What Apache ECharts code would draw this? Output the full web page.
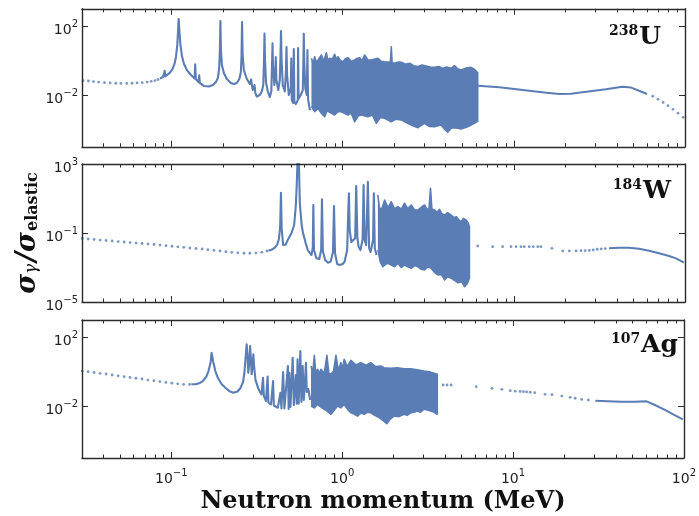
<!DOCTYPE html>
<html><head><meta charset="utf-8">
<script src="https://cdn.jsdelivr.net/npm/echarts@6/dist/echarts.min.js"></script>
<style>html,body{margin:0;padding:0;background:#fff}#c{width:699px;height:516px}</style>
</head><body><div id="c"></div>
<script>
// ---------- tick values ----------
const xMajor = [0.1, 1, 10, 100];
const xMinor = [0.04,0.05,0.06,0.07,0.08,0.09,0.2,0.3,0.4,0.5,0.6,0.7,0.8,0.9,2,3,4,5,6,7,8,9,20,30,40,50,60,70,80,90];
const yTicksU = [1e-2, 1e2];
const yTicksW = [1e-5, 1e-1, 1e3];
const yTicksAg = [1e-2, 1e2];
const panelNames = [['238','U'], ['184','W'], ['107','Ag']];

// ---------- 238U ----------
const U_dots = [[0.0304,0.068],[0.0327,0.065],[0.0350,0.060],[0.0375,0.056],[0.0406,0.052],[0.0438,0.050],[0.0473,0.048],[0.0506,0.047],[0.0548,0.047],[0.0588,0.048],[0.0629,0.050],[0.0674,0.052],[0.0721,0.056],[0.0761,0.062],[0.0800,0.069],[0.0834,0.079]];
const U_line = [[0.0857,0.091],[0.0892,0.11],[0.0908,0.12],[0.0913,0.25],[0.0919,0.12],[0.0941,0.145],[0.098,0.20],[0.1013,0.32],[0.1041,0.63],[0.1062,1.6],[0.1081,8],[0.1091,45],[0.1101,257],[0.1113,45],[0.1128,8],[0.1151,1.8],[0.1183,0.63],[0.1231,0.28],[0.1299,0.145],[0.1365,0.09],[0.1376,0.6],[0.1387,0.085],[0.1441,0.055],[0.1452,0.14],[0.1464,0.05],[0.1547,0.033],[0.1655,0.031],[0.1746,0.038],[0.1817,0.056],[0.1867,0.098],[0.190,0.37],[0.1918,4],[0.1931,195],[0.1944,4],[0.197,0.55],[0.2023,0.19],[0.2106,0.085],[0.2223,0.05],[0.2314,0.044],[0.241,0.05],[0.2491,0.085],[0.2542,0.21],[0.2566,2.1],[0.2583,170],[0.2604,2.1],[0.2646,0.28],[0.2755,0.085],[0.2869,0.044],[0.292,0.08],[0.2959,0.03],[0.2987,0.0195],[0.3056,0.038],[0.309,0.013],[0.315,0.0081],[0.3281,0.01],[0.337,0.016],[0.3438,0.038],[0.3471,1.07],[0.3494,37],[0.3518,1.07],[0.3566,0.056],[0.3653,0.016],[0.3753,0.0076],[0.3829,0.016],[0.3866,0.55],[0.3892,9.8],[0.3918,0.55],[0.3987,0.038],[0.4041,0.21],[0.4068,1.6],[0.4101,0.074],[0.4207,0.0195],[0.4293,0.074],[0.4333,2.1],[0.4362,51],[0.4397,1.07],[0.4469,0.038],[0.4591,0.016],[0.4666,0.28],[0.4697,6],[0.4735,0.145],[0.4844,0.01],[0.4976,0.025],[0.5010,1.3],[0.5044,0.005],[0.5146,0.0034],[0.5181,4.6],[0.5223,0.004],[0.5322,0.003],[0.5467,0.005],[0.549,5.2],[0.5527,0.006],[0.5692,0.01],[0.5848,0.0195],[0.5895,1.07],[0.5926,35],[0.5966,0.8],[0.6046,0.025],[0.6169,0.01],[0.6227,4.1],[0.6277,0.006],[0.6421,0.0015],[0.6508,0.00135]];
const U_bandHi = [[0.657,1.34],[0.672,0.7],[0.687,1.66],[0.70,0.8],[0.718,1.07],[0.735,0.9],[0.751,2.08],[0.775,0.9],[0.803,2.83],[0.82,1.0],[0.840,1.34],[0.87,1.2],[0.898,2.29],[0.92,1.1],[0.939,1.66],[0.97,1.0],[1.004,0.85],[1.04,1.3],[1.074,1.45],[1.12,0.9],[1.175,1.07],[1.21,1.3],[1.256,1.45],[1.30,1.0],[1.344,2.08],[1.40,1.1],[1.470,1.07],[1.54,1.2],[1.606,1.34],[1.68,0.9],[1.758,0.85],[1.90,0.8],[1.923,6.3],[1.945,0.75],[2.010,0.69],[2.10,0.8],[2.199,0.79],[2.33,0.6],[2.459,0.69],[2.60,0.5],[2.749,0.44],[2.9,0.55],[3.076,0.48],[3.25,0.42],[3.440,0.40],[3.65,0.45],[3.845,0.35],[4.05,0.42],[4.303,0.35],[4.498,0.50],[4.70,0.33],[4.921,0.28],[5.25,0.36],[5.628,0.40],[5.9,0.30],[6.15,0.2]];
const U_bandLo = [[0.657,0.0021],[0.687,0.00108],[0.718,0.0017],[0.751,0.00087],[0.785,0.00055],[0.810,0.0012],[0.840,0.00099],[0.898,0.00069],[0.94,0.0011],[0.983,0.00108],[1.074,0.00069],[1.12,0.0009],[1.175,0.00028],[1.23,0.0006],[1.285,0.00069],[1.404,0.00055],[1.49,0.0007],[1.572,0.00023],[1.66,0.0005],[1.758,0.00045],[1.923,0.00028],[2.05,0.0004],[2.199,0.00036],[2.35,0.00025],[2.516,0.00018],[2.749,0.000127],[3.006,0.00023],[3.2,0.00015],[3.440,0.000145],[3.763,0.00018],[3.95,0.0001],[4.11,0.0000689],[4.30,0.00012],[4.498,0.000127],[4.921,0.000107],[5.38,0.000145],[5.88,0.00023],[6.15,0.0003]];
const U_tail = [[6.15,0.0346],[8.23,0.0279],[12.3,0.0177],[15.5,0.0135],[18.4,0.0114],[21.5,0.0118],[25.2,0.0144],[34.5,0.0214],[43.1,0.0303],[48.5,0.027],[53.9,0.0177],[60.0,0.0115]];
const U_tailDots = [[64.8,0.0085],[69.5,0.0057],[74.5,0.0037],[79.5,0.0024],[85,0.00148],[91,0.00088],[97.5,0.00051]];

// ---------- 184W ----------
const W_dots = [[0.0301,0.048],[0.0326,0.045],[0.0353,0.042],[0.0383,0.039],[0.0415,0.0367],[0.045,0.0344],[0.0488,0.032],[0.0529,0.030],[0.0573,0.028],[0.0621,0.026],[0.0673,0.0246],[0.0729,0.023],[0.0791,0.0215],[0.0857,0.020],[0.0929,0.0184],[0.1007,0.0170],[0.109,0.0159],[0.118,0.0148],[0.128,0.0135],[0.139,0.0126],[0.151,0.0118],[0.163,0.0108],[0.177,0.0099],[0.192,0.0091],[0.208,0.0082],[0.225,0.0076],[0.244,0.0071],[0.265,0.0067],[0.287,0.0067],[0.311,0.0069],[0.337,0.0076],[0.361,0.0091]];
const W_line = [[0.368,0.0094],[0.386,0.011],[0.403,0.0148],[0.416,0.023],[0.424,0.045],[0.431,0.195],[0.436,21.7],[0.440,0.195],[0.449,0.020],[0.465,0.0215],[0.478,0.04],[0.502,0.096],[0.521,0.3],[0.532,3.35],[0.539,61],[0.544,1000],[0.549,3000],[0.555,1000],[0.562,5.3],[0.576,0.29],[0.587,0.096],[0.608,0.026],[0.625,0.0103],[0.657,0.0053],[0.669,0.0135],[0.674,4.2],[0.680,0.0103],[0.702,0.0034],[0.730,0.0031],[0.749,0.0103],[0.757,9.0],[0.766,0.009],[0.79,0.0027],[0.821,0.0019],[0.851,0.0022],[0.878,0.008],[0.89,3.7],[0.902,0.007],[0.929,0.0016],[0.961,0.0014],[1.0,0.0016],[1.027,0.0022],[1.062,0.0103],[1.077,1.1],[1.088,20],[1.099,0.15],[1.124,0.030],[1.148,0.025],[1.183,0.05],[1.20,53],[1.219,0.05],[1.239,0.0161],[1.27,0.0103],[1.307,0.04],[1.325,61],[1.344,0.039],[1.371,0.02],[1.404,94],[1.427,0.0135],[1.456,0.0079],[1.505,0.04],[1.521,20],[1.54,0.013],[1.578,0.0053]];
const W_bandHi = [[1.606,16],[1.64,3],[1.681,2.15],[1.72,4],[1.758,8.2],[1.84,3],[1.923,6.5],[2.01,2.5],[2.101,3.35],[2.2,2.4],[2.298,5.3],[2.40,2.6],[2.516,4.2],[2.63,2.2],[2.749,2.15],[2.87,3],[3.006,4.2],[3.13,2.2],[3.20,3],[3.26,39],[3.32,2.5],[3.44,2.15],[3.56,1.6],[3.68,2.37],[3.80,1.3],[3.94,1.10],[4.10,1.5],[4.30,1.10],[4.45,0.8],[4.62,0.88],[4.76,0.6],[4.92,0.45],[5.08,0.7],[5.26,0.57],[5.40,0.4],[5.50,0.23]];
const W_bandLo = [[1.606,0.0103],[1.66,0.002],[1.716,0.00111],[1.82,0.0018],[1.923,0.0014],[2.01,0.0011],[2.101,0.00175],[2.2,0.001],[2.298,0.0014],[2.40,0.0011],[2.516,0.0009],[2.63,0.0013],[2.749,0.00111],[2.87,0.0008],[3.006,0.00072],[3.15,0.0011],[3.289,0.0009],[3.45,0.0005],[3.60,0.00037],[3.77,0.0004],[3.94,0.00019],[4.10,0.0003],[4.30,0.00024],[4.50,0.00018],[4.72,0.000131],[4.95,0.00015],[5.15,0.000077],[5.35,0.00012],[5.50,0.00024]];
const W_tailDots = [[6.15,0.0176],[7.52,0.0161],[8.60,0.0161],[9.63,0.0161],[10.3,0.0161],[11.0,0.0161],[11.5,0.0161],[12.3,0.0161],[13.0,0.0161],[13.8,0.0161],[14.4,0.0161],[16.7,0.013],[19.3,0.0091],[21.1,0.0091],[23.1,0.0091],[24.7,0.0094],[26.1,0.0094],[27.6,0.0098],[29.1,0.0105],[30.7,0.0114],[32.4,0.012],[34.2,0.0125]];
const W_tail = [[36.0,0.013],[41.2,0.0141],[47.1,0.0141],[53.9,0.0123],[61.7,0.0094],[70.5,0.0067],[80.7,0.0046],[88.7,0.0034],[98.6,0.0019]];

// ---------- 107Ag ----------
const Ag_dots = [[0.0301,1.10],[0.0326,1.0],[0.0353,0.906],[0.0383,0.81],[0.0415,0.74],[0.045,0.65],[0.0488,0.58],[0.0529,0.52],[0.0573,0.47],[0.0621,0.42],[0.0673,0.38],[0.0729,0.33],[0.0791,0.30],[0.0857,0.27],[0.0929,0.24],[0.1007,0.217],[0.109,0.20],[0.118,0.187],[0.128,0.185]];
const Ag_line = [[0.131,0.187],[0.139,0.19],[0.147,0.223],[0.153,0.29],[0.160,0.50],[0.165,1.1],[0.170,3.7],[0.172,12.7],[0.176,3.7],[0.181,1.1],[0.187,0.45],[0.197,0.19],[0.208,0.115],[0.219,0.075],[0.231,0.061],[0.244,0.072],[0.254,0.115],[0.263,0.255],[0.268,0.97],[0.272,6.3],[0.276,39],[0.280,5],[0.282,0.88],[0.286,3.7],[0.289,31],[0.293,3.7],[0.295,0.71],[0.299,2.15],[0.302,10.3],[0.305,2.15],[0.311,0.33],[0.324,0.096],[0.337,0.048],[0.344,0.45],[0.348,0.039],[0.358,0.020],[0.366,0.52],[0.370,0.0165],[0.383,0.013],[0.394,0.29],[0.398,0.011],[0.420,0.0082],[0.435,0.061],[0.441,0.0074],[0.451,0.97],[0.459,0.0074],[0.481,2.15],[0.486,0.0069],[0.491,0.88],[0.498,0.009],[0.513,6.5],[0.521,0.0118],[0.535,0.65],[0.542,0.014],[0.548,5.3],[0.556,0.014],[0.569,16],[0.577,0.0178],[0.587,2.15],[0.596,0.023],[0.614,3.35],[0.620,0.067],[0.633,0.10],[0.650,0.023]];
const Ag_bandHi = [[0.657,2.15],[0.672,0.8],[0.687,9.0],[0.70,0.9],[0.718,1.39],[0.735,0.8],[0.751,1.39],[0.785,0.8],[0.814,9.0],[0.835,0.8],[0.859,0.71],[0.89,1.1],[0.919,9.0],[0.95,1.2],[0.983,3.35],[1.005,1.4],[1.027,5.3],[1.07,2.0],[1.124,4.6],[1.20,2.5],[1.285,3.35],[1.38,2.4],[1.470,3.35],[1.57,2.0],[1.681,2.15],[1.758,1.72],[1.92,1.6],[2.101,1.72],[2.30,1.5],[2.516,1.50],[2.75,1.3],[3.006,1.10],[3.3,0.95],[3.60,0.71]];
const Ag_bandLo = [[0.657,0.0103],[0.687,0.008],[0.718,0.013],[0.75,0.009],[0.785,0.0067],[0.82,0.005],[0.859,0.0034],[0.90,0.006],[0.939,0.0103],[0.983,0.008],[1.027,0.013],[1.07,0.007],[1.124,0.0042],[1.175,0.0035],[1.228,0.0027],[1.285,0.004],[1.344,0.0034],[1.40,0.0045],[1.470,0.0042],[1.55,0.003],[1.643,0.0022],[1.73,0.0015],[1.823,0.00097],[1.91,0.0018],[2.010,0.0027],[2.15,0.0025],[2.298,0.0034],[2.40,0.003],[2.516,0.0042],[2.63,0.0045],[2.749,0.0053],[2.88,0.0045],[3.006,0.0067],[3.15,0.006],[3.289,0.0053],[3.45,0.0045],[3.60,0.0034]];
const Ag_tailDots = [[3.90,0.17],[4.11,0.17],[4.34,0.17],[6.09,0.136],[7.52,0.11],[8.60,0.096],[9.63,0.080],[10.3,0.075],[11.0,0.072],[11.5,0.070],[12.0,0.068],[12.6,0.065],[13.4,0.061],[15.4,0.049],[16.9,0.047],[19.3,0.039],[21.6,0.033],[23.1,0.029],[25.2,0.025],[27.6,0.023]];
const Ag_tail = [[30.3,0.021],[36.0,0.0194],[43.1,0.0184],[51.7,0.0184],[60.5,0.0192],[67.6,0.0118],[77.4,0.0061],[88.2,0.0031],[98.6,0.00175]];

// ---------- chart ----------
const C = '#5b7db5';
const AX = '#2b2b2b';
const gridTops = [8.75, 164, 320];
const GH = 138;

function supFmt(v) {
  const e = Math.round(Math.log10(v));
  return '{b|10}{s|' + (e < 0 ? '\u2212' + (-e) : e) + '}';
}
const supRich = {
  b: {fontSize: 14, fontFamily: 'DejaVu Sans', color: '#222', padding: [8,0,0,0]},
  s: {fontSize: 10, fontFamily: 'DejaVu Sans', color: '#222', padding: [0,0,4,0]}
};

const grids = [], xAxes = [], yAxes = [], series = [];
const panels = [
  {yt: yTicksU, dots: U_dots, line: U_line, hi: U_bandHi, lo: U_bandLo, tail: U_tail, tdots: U_tailDots},
  {yt: yTicksW, dots: W_dots, line: W_line, hi: W_bandHi, lo: W_bandLo, tail: W_tail, tdots: W_tailDots},
  {yt: yTicksAg, dots: Ag_dots, line: Ag_line, hi: Ag_bandHi, lo: Ag_bandLo, tail: Ag_tail, tdots: Ag_tailDots}
];

panels.forEach((p, gi) => {
  grids.push({left: 82, right: 14, top: gridTops[gi], height: GH});
  const xBase = {gridIndex: gi, type: 'log', logBase: 10, min: 0.03, max: 100, splitLine: {show: false}, minorTick: {show: false}, z: 5};
  const mk = (pos, minor, labels) => Object.assign({}, xBase, {
    position: pos,
    axisLine: {show: !minor, onZero: false, lineStyle: {color: AX, width: 1.4}},
    axisTick: {show: true, inside: true, length: minor ? 3.5 : 6, lineStyle: {color: AX, width: 1}, customValues: minor ? xMinor : xMajor},
    axisLabel: labels ? {show: true, customValues: xMajor, formatter: supFmt, rich: supRich, margin: 6} : {show: false}
  });
  xAxes.push(mk('bottom', false, gi === 2));
  xAxes.push(mk('bottom', true, false));
  xAxes.push(mk('top', false, false));
  xAxes.push(mk('top', true, false));
  const yBase = {gridIndex: gi, type: 'log', logBase: 10, min: 1e-5, max: 1e3, splitLine: {show: false}, minorTick: {show: false}, z: 5};
  yAxes.push(Object.assign({}, yBase, {
    position: 'left',
    axisLine: {show: true, onZero: false, lineStyle: {color: AX, width: 1.4}},
    axisTick: {show: true, inside: true, length: 6, lineStyle: {color: AX, width: 1}, customValues: p.yt},
    axisLabel: {show: true, customValues: p.yt, formatter: supFmt, rich: supRich, margin: 4}
  }));
  yAxes.push(Object.assign({}, yBase, {
    position: 'right',
    axisLine: {show: true, onZero: false, lineStyle: {color: AX, width: 1.4}},
    axisTick: {show: true, inside: true, length: 6, lineStyle: {color: AX, width: 1}, customValues: p.yt},
    axisLabel: {show: false}
  }));
  const xi = gi * 4, yi = gi * 2;
  const dotS = (data) => ({type: 'scatter', xAxisIndex: xi, yAxisIndex: yi, data: data, symbolSize: 2.8, itemStyle: {color: C}, silent: true});
  const lineS = (data, w) => ({type: 'line', xAxisIndex: xi, yAxisIndex: yi, data: data, showSymbol: false, symbol: 'none', lineStyle: {color: C, width: w, join: 'round'}, silent: true});
  series.push(dotS(p.dots));
  series.push(lineS(p.line, 2.1));
  const band = lineS(p.hi.concat(p.lo.slice().reverse()), 1.6);
  band.areaStyle = {color: C, opacity: 1, origin: 1e-5};
  series.push(band);
  series.push(lineS(p.tail, 2.0));
  series.push(dotS(p.tdots));
});

const graphics = [];
const labelPos = [[661, 37], [671, 191], [678, 345]];
panelNames.forEach((n, i) => {
  graphics.push({type: 'text', x: labelPos[i][0], y: labelPos[i][1], z: 10,
    style: {text: '{s|' + n[0] + '}{m|' + n[1] + '}', textAlign: 'right', textVerticalAlign: 'middle',
      rich: {s: {font: 'bold 14px "DejaVu Serif"', fill: '#111', padding: [0,1,11,0]},
             m: {font: 'bold 25px "DejaVu Serif"', fill: '#111'}}}});
});
graphics.push({type: 'text', x: 383, y: 502, z: 10,
  style: {text: 'Neutron momentum (MeV)', font: 'bold 24px "DejaVu Serif"', fill: '#111', textAlign: 'center', textVerticalAlign: 'middle'}});
graphics.push({type: 'text', x: 28, y: 233, rotation: Math.PI / 2, z: 10,
  style: {text: '{a|\u03c3}{b|\u03b3}{a|/\u03c3}{c|elastic}', textAlign: 'center', textVerticalAlign: 'middle',
    rich: {a: {font: 'bold italic 27px "DejaVu Serif"', fill: '#111'},
           b: {font: 'italic 17px "DejaVu Serif"', fill: '#111', padding: [8,2,0,0]},
           c: {font: 'bold 16px "DejaVu Serif"', fill: '#111', padding: [9,0,0,1]}}}});

const chart = echarts.init(document.getElementById('c'), null, {renderer: 'canvas'});
chart.setOption({
  animation: false,
  backgroundColor: '#fff',
  grid: grids,
  xAxis: xAxes,
  yAxis: yAxes,
  series: series,
  graphic: graphics
});
</script>
</body></html>
